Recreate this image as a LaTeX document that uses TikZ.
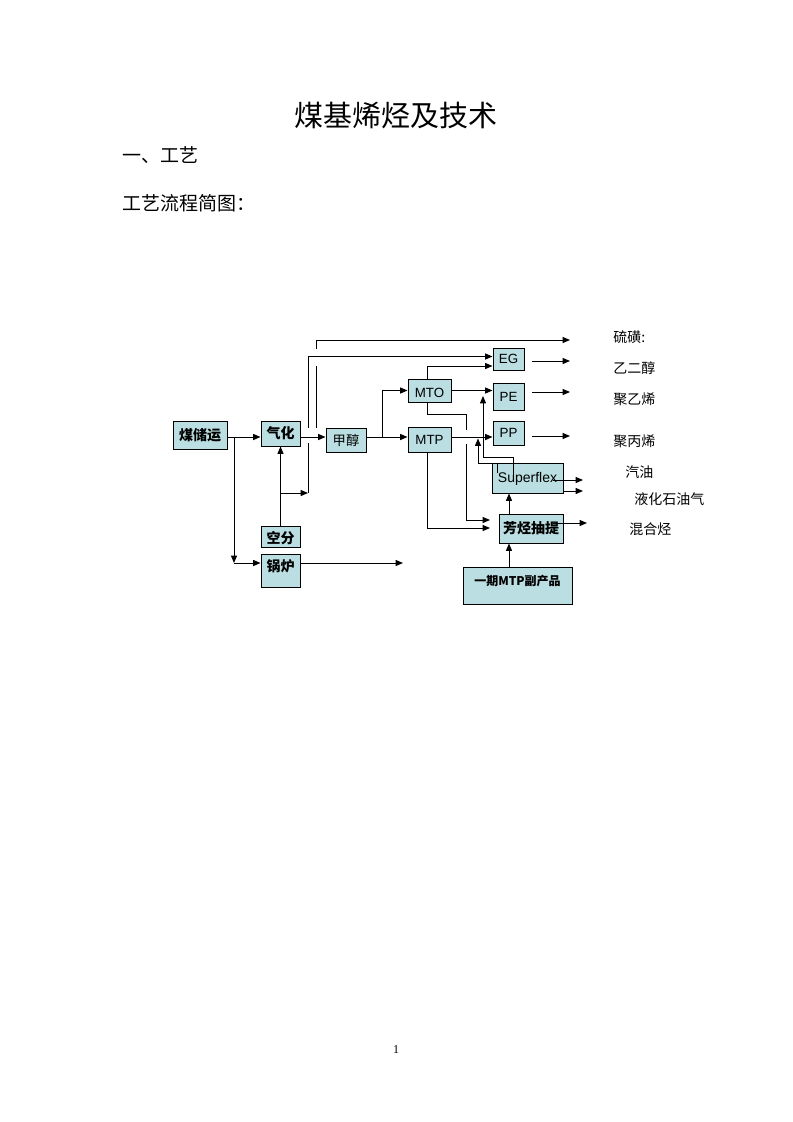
\documentclass[tikz,border=0pt]{standalone}
\usepackage{fontspec}
\setmainfont{Liberation Serif}
\newfontfamily\cjk{Noto Sans CJK SC}
\newfontfamily\arial{Liberation Sans}
\usetikzlibrary{arrows.meta}
\definecolor{boxfill}{RGB}{187,222,226}
\tikzset{
  box/.style={draw=black, fill=boxfill, line width=0.75pt, inner sep=0pt},
  wh/.style 2 args={minimum width=#1*0.75pt, minimum height=#2*0.75pt},
  ln/.style={line width=0.75pt},
  arr/.style={line width=0.75pt, -{Triangle[length=5.5pt,width=4.5pt]}},
  cb/.style={font=\cjk\bfseries\fontsize{10.5}{12}\selectfont, text height=0.88em, text depth=0.12em},
  cr/.style={font=\cjk\fontsize{10}{12}\selectfont, text height=0.88em, text depth=0.12em},
  en/.style={font=\arial\fontsize{10}{12}\selectfont, text height=0.72em, text depth=0pt},
  lab/.style={anchor=west, inner sep=0pt, font=\cjk\fontsize{10.5}{12}\selectfont, text height=0.88em, text depth=0.12em}
}
\begin{document}
\begin{tikzpicture}[x=0.75pt,y=-0.75pt]
\useasboundingbox (0,0) rectangle (793,1122);

%heading
\node[font=\cjk\fontsize{21.75}{24}\selectfont] (title) at (396,116) {煤基烯烃及技术};
\node[anchor=west, inner sep=0pt, font=\cjk\fontsize{14.25}{16}\selectfont] (sec) at (122,155) {一、工艺};
\node[anchor=west, inner sep=0pt, font=\cjk\fontsize{14.25}{16}\selectfont] (sub) at (122,203) {工艺流程简图：};

%draw boxes
\node[box, wh={54}{28}, cb] (store) at (200,435) {煤储运};
\node[box, wh={39}{25}, cb] (gasif) at (280.5,433.5) {气化};
\node[box, wh={40}{24}, cr] (meoh) at (346,440) {甲醇};
\node[box, wh={39}{21}, label={[cb,yshift=-1.5pt]center:空分}] (asu) at (280.5,536.5) {};
\node[box, wh={39}{33}, label={[cb,yshift=3pt]center:锅炉}] (boiler) at (280.5,570.5) {};
\node[box, wh={43}{23}, label={[en,yshift=-2pt]center:MTO}] (mto) at (429.5,390.5) {};
\node[box, wh={43}{25}, en] (mtp) at (429.5,439.5) {MTP};
\node[box, wh={31}{22}, en] (eg) at (508.5,359) {EG};
\node[box, wh={31}{27}, en] (pe) at (508.5,396.5) {PE};
\node[box, wh={31}{24}, en] (pp) at (508.5,433) {PP};
\node[box, wh={71}{30}, en, font=\arial\fontsize{10.5}{12}\selectfont] (sflex) at (527.5,478) {Superflex};
\node[box, wh={64}{29}, cb] (arom) at (531,528.5) {芳烃抽提};
\node[box, wh={109}{37}, label={[cb,font=\cjk\bfseries\fontsize{9}{10}\selectfont,yshift=4pt]center:一期MTP副产品}] (byprod) at (517.5,585.5) {};

%helper points
\coordinate (main) at (0,437);
\coordinate (jb) at (234,563);
\coordinate (jm) at (382,437);
\coordinate (ob) at (308,493);
\coordinate (mx) at (427,0);
\coordinate (ax) at (509,0);
\coordinate (sp1) at (497,473);
\coordinate (sp2) at (513,480);
\coordinate (sp3) at (553,480);
\coordinate (ar1) at (553,523);

%free ends
\coordinate (steam) at (403,563);
\coordinate (sulf) at (570,340);
\coordinate (egout) at (570,361);
\coordinate (peout) at (570,392);
\coordinate (ppout) at (570,436);
\coordinate (gasout) at (583,480);
\coordinate (lpgout) at (583,491);
\coordinate (mixout) at (587,523);

%coal, gasification, boiler
\draw[arr] (store.east |- main) -- (gasif.west |- main);
\draw[arr] (jb |- main) -- (jb);
\draw[arr] (jb) -- (jb -| boiler.west);
\draw[arr] (jb -| boiler.east) -- (steam);
\draw[arr] (gasif.east |- main) -- (meoh.west |- main);
\draw[arr] (asu.north) -- (gasif.south);
\draw[arr] (asu.north |- ob) -- (ob);

%bypass lines (with hops)
\draw[ln] (ob) -- (308,443);
\draw[arr] (308,428) |- (eg.west |- 0,356.5);
\draw[ln] (316,428) -- (316,366);
\draw[arr] (316,349) |- (sulf);

%methanol to olefins
\draw[arr] (meoh.east |- main) -- (mtp.west |- main);
\draw[arr] (jm) |- (mto.west);
\draw[arr] (mto.north -| mx) |- (eg.west |- 0,366);
\draw[arr] (mto.east) -- (mto.east -| pe.west);
\draw[arr] (mtp.east |- main) -- (pp.west |- main);
\draw[ln] (mto.south -| mx) |- (466,414) -- (466,430);
\draw[arr] (466,444) |- (490,520);
\draw[arr] (mtp.south -| mx) |- (490,528);

%superflex and aromatics
\draw[arr] (sp1) |- (478,463) -- (478,438.5);
\draw[arr] (sp2) |- (483,457) -- (483,396);
\draw[arr] (arom.north -| ax) -- (sflex.south -| ax);
\draw[arr] (byprod.north -| ax) -- (arom.south -| ax);
\draw[arr] (sp3) -- (gasout);
\draw[arr] (sflex.east |- lpgout) -- (lpgout);
\draw[arr] (ar1) -- (mixout);

%products
\draw[arr] ([xshift=5.75pt]eg.east |- egout) -- (egout);
\draw[arr] ([xshift=5.75pt]pe.east |- peout) -- (peout);
\draw[arr] ([xshift=5.75pt]pp.east |- ppout) -- (ppout);
\node[lab] (sulfur) at (613,337) {硫磺:};
\node[lab] (glycol) at (613,368) {乙二醇};
\node[lab] (pelab) at (613,399) {聚乙烯};
\node[lab] (pplab) at (613,441) {聚丙烯};
\node[lab] (gaslab) at (625,472) {汽油};
\node[lab] (lpglab) at (634,499) {液化石油气};
\node[lab] (mixlab) at (629,529) {混合烃};

%page number
\node[font=\fontsize{9}{10}\selectfont] (pg) at (396,1050) {1};
\end{tikzpicture}
\end{document}
